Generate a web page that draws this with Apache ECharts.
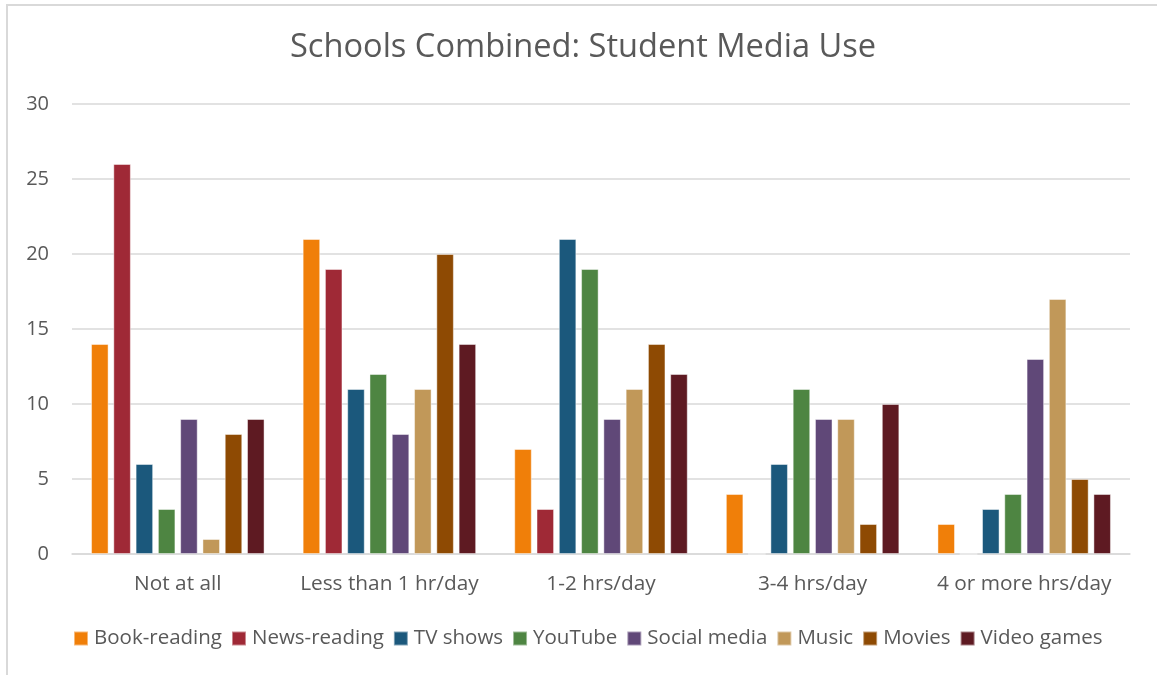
<!DOCTYPE html>
<html>
<head>
<meta charset="utf-8">
<script src="https://cdn.jsdelivr.net/npm/echarts@6/dist/echarts.min.js"></script>
<style>
  html, body { margin: 0; padding: 0; background: #fff; }
  #chart { width: 1157px; height: 675px; }
</style>
</head>
<body>
<div id="chart"></div>
<script>
// Usage buckets along the x axis
const categories = ['Not at all', 'Less than 1 hr/day', '1-2 hrs/day', '3-4 hrs/day', '4 or more hrs/day'];

// Number of students per media type in each bucket
const bookReading  = [14, 21, 7, 4, 2];
const newsReading  = [26, 19, 3, 0, 0];
const tvShows      = [6, 11, 21, 6, 3];
const youTube      = [3, 12, 19, 11, 4];
const socialMedia  = [9, 8, 9, 9, 13];
const music        = [1, 11, 11, 9, 17];
const movies       = [8, 20, 14, 2, 5];
const videoGames   = [9, 14, 12, 10, 4];

const seriesNames = ['Book-reading', 'News-reading', 'TV shows', 'YouTube', 'Social media', 'Music', 'Movies', 'Video games'];
const seriesData = [bookReading, newsReading, tvShows, youTube, socialMedia, music, movies, videoGames];
const colors = ['#F07F09', '#9F2936', '#1B587C', '#4E8542', '#604878', '#C19859', '#8E4A03', '#5E1A22'];

const yTicks = { min: 0, max: 30, interval: 5 };

const FONT = '"Open Sans", sans-serif';
const TEXT = '#595959';

const chart = echarts.init(document.getElementById('chart'), null, { renderer: 'canvas' });

chart.setOption({
  animation: false,
  color: colors,
  title: {
    text: 'Schools Combined: Student Media Use',
    left: 285,
    top: 26,
    textStyle: { fontFamily: FONT, fontSize: 32.6, fontWeight: 'normal', color: TEXT }
  },
  graphic: [{
    type: 'rect',
    shape: { x: 7, y: 5, width: 1200, height: 720 },
    style: { fill: 'none', stroke: '#d9d9d9', lineWidth: 2 },
    silent: true
  }],
  legend: {
    bottom: 21,
    left: 68,
    itemWidth: 14,
    itemHeight: 14,
    itemGap: 9,
    icon: 'rect',
    textStyle: { fontFamily: FONT, fontSize: 20.5, color: TEXT, padding: [0, 0, 0, 1] },
    data: seriesNames
  },
  grid: { left: 72, right: 27, top: 104, bottom: 121, containLabel: false },
  xAxis: {
    type: 'category',
    data: categories,
    axisLine: { show: true, lineStyle: { color: '#d9d9d9', width: 1.5 } },
    axisTick: { show: false },
    axisLabel: { fontFamily: FONT, fontSize: 20.8, color: TEXT, margin: 20, interval: 0 }
  },
  yAxis: {
    type: 'value',
    min: yTicks.min,
    max: yTicks.max,
    interval: yTicks.interval,
    axisLine: { show: false },
    axisTick: { show: false },
    axisLabel: { fontFamily: FONT, fontSize: 20, color: TEXT, margin: 23 },
    splitLine: { lineStyle: { color: '#d9d9d9', width: 1.5 } }
  },
  series: seriesNames.map((name, i) => ({
    name,
    type: 'bar',
    data: seriesData[i],
    barGap: '27%',
    barCategoryGap: '18%',
    itemStyle: { color: colors[i], borderColor: 'rgba(255,255,255,0.45)', borderWidth: 1 }
  }))
});
</script>
</body>
</html>
